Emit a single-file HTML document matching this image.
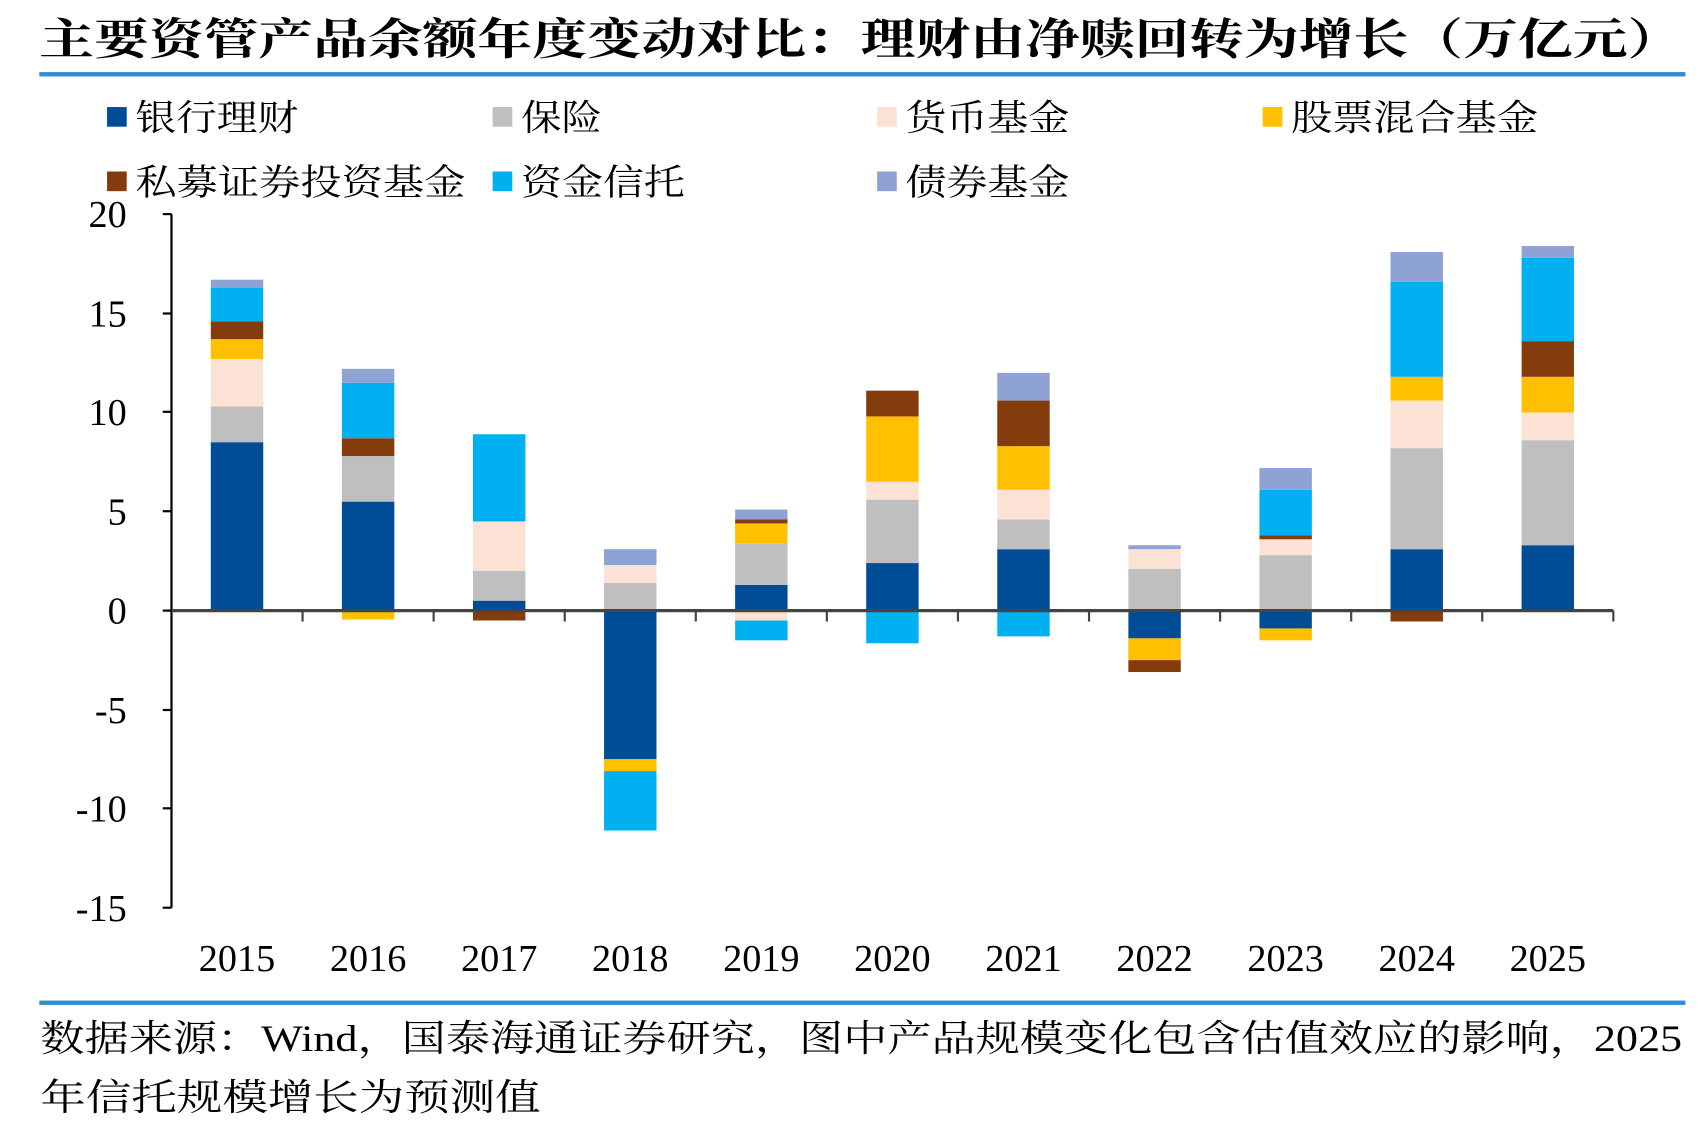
<!DOCTYPE html>
<html><head><meta charset="utf-8"><style>
html,body{margin:0;padding:0;background:#fff;}
svg{display:block;}
text{font-family:"Liberation Serif","Noto Serif CJK SC",serif;fill:#000;}
</style></head><body>
<svg width="1704" height="1124" viewBox="0 0 1560 1029" preserveAspectRatio="none">
<text x="36" y="50" font-size="40" font-weight="bold" textLength="1504" lengthAdjust="spacingAndGlyphs">主要资管产品余额年度变动对比：理财由净赎回转为增长（万亿元）</text>
<rect x="36" y="66" width="1507" height="4" fill="#2E8FD0"/>
<g font-size="33">
<rect x="98" y="98" width="18" height="18" fill="#004C97"/><text x="124" y="119" textLength="149" lengthAdjust="spacingAndGlyphs">银行理财</text>
<rect x="451" y="98" width="18" height="18" fill="#BFBFBF"/><text x="477" y="119" textLength="74" lengthAdjust="spacingAndGlyphs">保险</text>
<rect x="803" y="98" width="18" height="18" fill="#FBE2D5"/><text x="829" y="119" textLength="150" lengthAdjust="spacingAndGlyphs">货币基金</text>
<rect x="1156" y="98" width="18" height="18" fill="#FFC000"/><text x="1182" y="119" textLength="226" lengthAdjust="spacingAndGlyphs">股票混合基金</text>
<rect x="98" y="157" width="18" height="18" fill="#843C0C"/><text x="124" y="178" textLength="302" lengthAdjust="spacingAndGlyphs">私募证券投资基金</text>
<rect x="451" y="157" width="18" height="18" fill="#00B0F0"/><text x="477" y="178" textLength="150" lengthAdjust="spacingAndGlyphs">资金信托</text>
<rect x="803" y="157" width="18" height="18" fill="#8FA2D4"/><text x="829" y="178" textLength="150" lengthAdjust="spacingAndGlyphs">债券基金</text>
</g>
<g transform="translate(0,559) scale(1,-18.14)">
<rect x="193" y="0" width="48" height="8.5" fill="#004C97"/>
<rect x="193" y="8.5" width="48" height="1.8" fill="#BFBFBF"/>
<rect x="193" y="10.3" width="48" height="2.4" fill="#FBE2D5"/>
<rect x="193" y="12.7" width="48" height="1.0" fill="#FFC000"/>
<rect x="193" y="13.7" width="48" height="0.9" fill="#843C0C"/>
<rect x="193" y="14.6" width="48" height="1.7" fill="#00B0F0"/>
<rect x="193" y="16.3" width="48" height="0.4" fill="#8FA2D4"/>
<rect x="313" y="0" width="48" height="5.5" fill="#004C97"/>
<rect x="313" y="5.5" width="48" height="2.3" fill="#BFBFBF"/>
<rect x="313" y="7.8" width="48" height="0.9" fill="#843C0C"/>
<rect x="313" y="8.7" width="48" height="2.8" fill="#00B0F0"/>
<rect x="313" y="11.5" width="48" height="0.7" fill="#8FA2D4"/>
<rect x="313" y="-0.45" width="48" height="0.45" fill="#FFC000"/>
<rect x="433" y="0" width="48" height="0.5" fill="#004C97"/>
<rect x="433" y="0.5" width="48" height="1.5" fill="#BFBFBF"/>
<rect x="433" y="2.0" width="48" height="2.5" fill="#FBE2D5"/>
<rect x="433" y="4.5" width="48" height="4.4" fill="#00B0F0"/>
<rect x="433" y="-0.5" width="48" height="0.5" fill="#843C0C"/>
<rect x="553" y="0" width="48" height="1.4" fill="#BFBFBF"/>
<rect x="553" y="1.4" width="48" height="0.9" fill="#FBE2D5"/>
<rect x="553" y="2.3" width="48" height="0.8" fill="#8FA2D4"/>
<rect x="553" y="-7.5" width="48" height="7.5" fill="#004C97"/>
<rect x="553" y="-8.1" width="48" height="0.6" fill="#FFC000"/>
<rect x="553" y="-11.1" width="48" height="3.0" fill="#00B0F0"/>
<rect x="673" y="0" width="48" height="1.3" fill="#004C97"/>
<rect x="673" y="1.3" width="48" height="2.1" fill="#BFBFBF"/>
<rect x="673" y="3.4" width="48" height="1.0" fill="#FFC000"/>
<rect x="673" y="4.4" width="48" height="0.2" fill="#843C0C"/>
<rect x="673" y="4.6" width="48" height="0.5" fill="#8FA2D4"/>
<rect x="673" y="-0.5" width="48" height="0.5" fill="#FBE2D5"/>
<rect x="673" y="-1.5" width="48" height="1.0" fill="#00B0F0"/>
<rect x="793" y="0" width="48" height="2.4" fill="#004C97"/>
<rect x="793" y="2.4" width="48" height="3.2" fill="#BFBFBF"/>
<rect x="793" y="5.6" width="48" height="0.9" fill="#FBE2D5"/>
<rect x="793" y="6.5" width="48" height="3.3" fill="#FFC000"/>
<rect x="793" y="9.8" width="48" height="1.3" fill="#843C0C"/>
<rect x="793" y="-1.65" width="48" height="1.65" fill="#00B0F0"/>
<rect x="913" y="0" width="48" height="3.1" fill="#004C97"/>
<rect x="913" y="3.1" width="48" height="1.5" fill="#BFBFBF"/>
<rect x="913" y="4.6" width="48" height="1.5" fill="#FBE2D5"/>
<rect x="913" y="6.1" width="48" height="2.2" fill="#FFC000"/>
<rect x="913" y="8.3" width="48" height="2.3" fill="#843C0C"/>
<rect x="913" y="10.6" width="48" height="1.4" fill="#8FA2D4"/>
<rect x="913" y="-1.3" width="48" height="1.3" fill="#00B0F0"/>
<rect x="1033" y="0" width="48" height="2.1" fill="#BFBFBF"/>
<rect x="1033" y="2.1" width="48" height="1.0" fill="#FBE2D5"/>
<rect x="1033" y="3.1" width="48" height="0.2" fill="#8FA2D4"/>
<rect x="1033" y="-1.4" width="48" height="1.4" fill="#004C97"/>
<rect x="1033" y="-2.5" width="48" height="1.1" fill="#FFC000"/>
<rect x="1033" y="-3.1" width="48" height="0.6" fill="#843C0C"/>
<rect x="1153" y="0" width="48" height="2.8" fill="#BFBFBF"/>
<rect x="1153" y="2.8" width="48" height="0.8" fill="#FBE2D5"/>
<rect x="1153" y="3.6" width="48" height="0.2" fill="#843C0C"/>
<rect x="1153" y="3.8" width="48" height="2.3" fill="#00B0F0"/>
<rect x="1153" y="6.1" width="48" height="1.1" fill="#8FA2D4"/>
<rect x="1153" y="-0.9" width="48" height="0.9" fill="#004C97"/>
<rect x="1153" y="-1.5" width="48" height="0.6" fill="#FFC000"/>
<rect x="1273" y="0" width="48" height="3.1" fill="#004C97"/>
<rect x="1273" y="3.1" width="48" height="5.1" fill="#BFBFBF"/>
<rect x="1273" y="8.2" width="48" height="2.4" fill="#FBE2D5"/>
<rect x="1273" y="10.6" width="48" height="1.2" fill="#FFC000"/>
<rect x="1273" y="11.8" width="48" height="4.8" fill="#00B0F0"/>
<rect x="1273" y="16.6" width="48" height="1.5" fill="#8FA2D4"/>
<rect x="1273" y="-0.55" width="48" height="0.55" fill="#843C0C"/>
<rect x="1393" y="0" width="48" height="3.3" fill="#004C97"/>
<rect x="1393" y="3.3" width="48" height="5.3" fill="#BFBFBF"/>
<rect x="1393" y="8.6" width="48" height="1.4" fill="#FBE2D5"/>
<rect x="1393" y="10.0" width="48" height="1.8" fill="#FFC000"/>
<rect x="1393" y="11.8" width="48" height="1.8" fill="#843C0C"/>
<rect x="1393" y="13.6" width="48" height="4.2" fill="#00B0F0"/>
<rect x="1393" y="17.8" width="48" height="0.6" fill="#8FA2D4"/>
</g>
<g stroke="#000" stroke-width="2" fill="none">
<line x1="157" y1="196" x2="157" y2="831"/>
<line x1="149" y1="196" x2="157" y2="196"/><line x1="149" y1="287" x2="157" y2="287"/>
<line x1="149" y1="377" x2="157" y2="377"/><line x1="149" y1="468" x2="157" y2="468"/>
<line x1="149" y1="559" x2="157" y2="559"/><line x1="149" y1="650" x2="157" y2="650"/>
<line x1="149" y1="740" x2="157" y2="740"/><line x1="149" y1="831" x2="157" y2="831"/>
</g>
<line x1="157" y1="559" x2="1477" y2="559" stroke="#444" stroke-width="3"/>
<g stroke="#444" stroke-width="2">
<line x1="277" y1="559" x2="277" y2="569"/><line x1="397" y1="559" x2="397" y2="569"/>
<line x1="517" y1="559" x2="517" y2="569"/><line x1="637" y1="559" x2="637" y2="569"/>
<line x1="757" y1="559" x2="757" y2="569"/><line x1="877" y1="559" x2="877" y2="569"/>
<line x1="997" y1="559" x2="997" y2="569"/><line x1="1117" y1="559" x2="1117" y2="569"/>
<line x1="1237" y1="559" x2="1237" y2="569"/><line x1="1357" y1="559" x2="1357" y2="569"/>
<line x1="1477" y1="559" x2="1477" y2="569"/>
</g>
<g font-size="35" text-anchor="end">
<text x="116" y="208">20</text><text x="116" y="299">15</text><text x="116" y="389">10</text>
<text x="116" y="480">5</text><text x="116" y="571">0</text><text x="116" y="662">-5</text>
<text x="116" y="752">-10</text><text x="116" y="843">-15</text>
</g>
<g font-size="35" text-anchor="middle">
<text x="217" y="889">2015</text><text x="337" y="889">2016</text><text x="457" y="889">2017</text>
<text x="577" y="889">2018</text><text x="697" y="889">2019</text><text x="817" y="889">2020</text>
<text x="937" y="889">2021</text><text x="1057" y="889">2022</text><text x="1177" y="889">2023</text>
<text x="1297" y="889">2024</text><text x="1417" y="889">2025</text>
</g>
<rect x="36" y="916" width="1507" height="4" fill="#2E8FD0"/>
<g font-size="34">
<text x="37" y="962" textLength="1503" lengthAdjust="spacingAndGlyphs">数据来源：Wind，国泰海通证券研究，图中产品规模变化包含估值效应的影响，2025</text>
<text x="37" y="1016" textLength="458" lengthAdjust="spacingAndGlyphs">年信托规模增长为预测值</text>
</g>
</svg>
</body></html>
